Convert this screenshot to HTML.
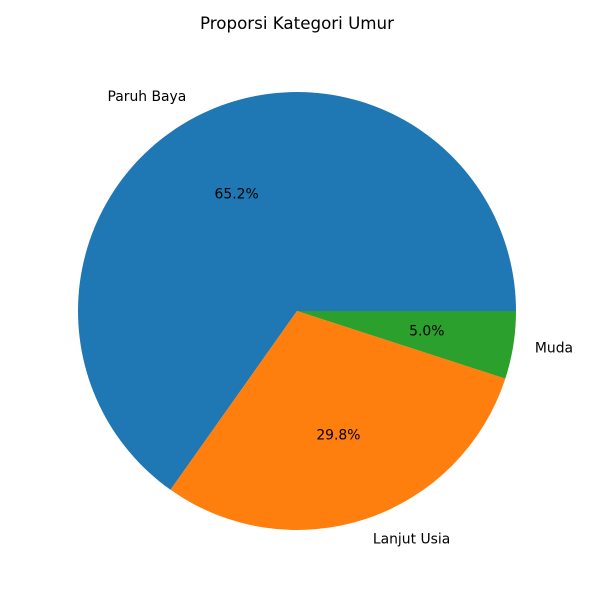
<!DOCTYPE html>
<html>
<head>
<meta charset="utf-8">
<style>
  html, body { margin: 0; padding: 0; background: #ffffff; }
  svg { display: block; font-family: "DejaVu Sans", "Liberation Sans", sans-serif; }
</style>
</head>
<body>
<svg id="chart" width="600" height="600" viewBox="0 0 600 600">
  <rect width="600" height="600" fill="#ffffff"></rect>
  <text x="297" y="29" text-anchor="middle" font-size="16.7" fill="#000">Proporsi Kategori Umur</text>
  <g id="slices"></g>
  <g id="labels"></g>
</svg>
<script>
const categories = ["Paruh Baya", "Lanjut Usia", "Muda"];
const values = [65.2, 29.8, 5.0];
const colors = ["#1f77b4", "#ff7f0e", "#2ca02c"];

const cx = 297, cy = 311, r = 219;
const NS = "http://www.w3.org/2000/svg";
const slicesG = document.getElementById("slices");
const labelsG = document.getElementById("labels");
const total = values.reduce((a, b) => a + b, 0);

function pt(angleDeg, rad) {
  const a = angleDeg * Math.PI / 180;
  return [cx + rad * Math.cos(a), cy - rad * Math.sin(a)];
}

let start = 0;
values.forEach((v, i) => {
  const sweep = v / total * 360;
  const end = start + sweep;
  const [x1, y1] = pt(start, r);
  const [x2, y2] = pt(end, r);
  const large = sweep > 180 ? 1 : 0;
  const path = document.createElementNS(NS, "path");
  path.setAttribute("d", `M${cx},${cy} L${x1},${y1} A${r},${r} 0 ${large} 0 ${x2},${y2} Z`);
  path.setAttribute("fill", colors[i]);
  
  
  slicesG.appendChild(path);

  const mid = start + sweep / 2;
  const [lx, ly] = pt(mid, r * 1.1);
  const lbl = document.createElementNS(NS, "text");
  lbl.setAttribute("x", lx);
  lbl.setAttribute("y", ly);
  lbl.setAttribute("font-size", "13.9");
  lbl.setAttribute("dominant-baseline", "central");
  lbl.setAttribute("text-anchor", lx >= cx ? "start" : "end");
  lbl.textContent = categories[i];
  
  
  labelsG.appendChild(lbl);

  const [px, py] = pt(mid, r * 0.6);
  const pct = document.createElementNS(NS, "text");
  pct.setAttribute("x", px);
  pct.setAttribute("y", py);
  pct.setAttribute("font-size", "13.9");
  pct.setAttribute("dominant-baseline", "central");
  pct.setAttribute("text-anchor", "middle");
  pct.textContent = (v / total * 100).toFixed(1) + "%";
  
  
  labelsG.appendChild(pct);

  start = end;
});
</script>
</body>
</html>
